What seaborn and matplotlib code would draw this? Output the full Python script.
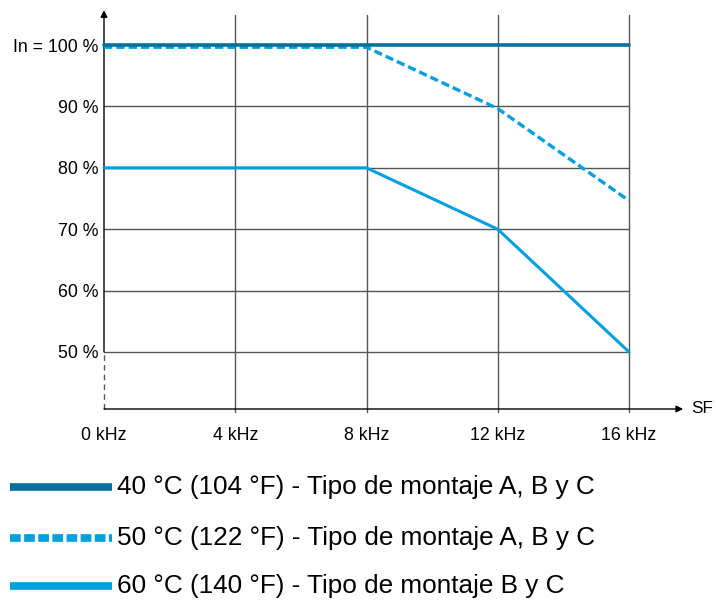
import numpy as np
import pandas as pd
import seaborn as sns
import matplotlib.pyplot as plt
from matplotlib.lines import Line2D
from matplotlib.transforms import offset_copy

freq_khz = [0, 4, 8, 12, 16]
curva_40 = [100, 100, 100, 100, 100]
curva_50 = [100, 100, 100, 90, 75]
curva_60 = [80, 80, 80, 70, 50]
x_ticks = [0, 4, 8, 12, 16]
x_labels = ["0 kHz", "4 kHz", "8 kHz", "12 kHz", "16 kHz"]
y_ticks = [50, 60, 70, 80, 90, 100]
y_labels = ["50 %", "60 %", "70 %", "80 %", "90 %", "In = 100 %"]
leyenda = ["40 °C (104 °F) - Tipo de montaje A, B y C",
           "50 °C (122 °F) - Tipo de montaje A, B y C",
           "60 °C (140 °F) - Tipo de montaje B y C"]

c_oscuro = "#00709c"
c_claro = "#009fdf"
gris = "#555555"

sns.set_style("white")
plt.rcParams["font.family"] = ["Liberation Sans", "DejaVu Sans"]
plt.rcParams["text.color"] = "black"
plt.rcParams["xtick.color"] = "black"
plt.rcParams["ytick.color"] = "black"

fig = plt.figure(figsize=(7.16, 6.03), dpi=100)
ax = fig.add_axes([104 / 716, 1 - 409 / 603, 525 / 716, 397 / 603])
ymin, ymax = 40.7, 105.4
ax.set_xlim(0, 16)
ax.set_ylim(ymin, ymax)
for s in ax.spines.values():
    s.set_visible(False)

# rejilla
for y in y_ticks[:-1]:
    ax.plot([0, 16], [y, y], color=gris, lw=1, zorder=1)
for x in x_ticks[1:]:
    ax.plot([x, x], [ymin - 0.5, 104.9], color=gris, lw=1, zorder=1, clip_on=False)

# ejes con flechas
ax.plot([0, 0], [ymin, 50], color=gris, lw=1, ls=(0, (4, 3)), clip_on=False)
ax.annotate("", xy=(0, ymax + 0.3), xytext=(0, 50),
            arrowprops=dict(arrowstyle="-|>", color="black", lw=1, mutation_scale=10,
                            shrinkA=0, shrinkB=0), annotation_clip=False)
ax.annotate("", xy=(17.65, ymin), xytext=(0, ymin),
            arrowprops=dict(arrowstyle="-|>", color="black", lw=1, mutation_scale=10,
                            shrinkA=0, shrinkB=0), annotation_clip=False)
ax.text(17.9, ymin + 0.1, "SF", fontsize=12.3, va="center", ha="left")

df = pd.DataFrame({"f": freq_khz, "c40": curva_40, "c50": curva_50, "c60": curva_60})
tr50 = offset_copy(ax.transData, fig=fig, x=0, y=-1.5, units="points")
sns.lineplot(data=df, x="f", y="c50", ax=ax, color=c_claro, lw=2.4,
             linestyle=(0, (2.5, 1.2)), zorder=3, transform=tr50)
sns.lineplot(data=df, x="f", y="c40", ax=ax, color=c_oscuro, lw=2.6, zorder=4)
sns.lineplot(data=df, x="f", y="c60", ax=ax, color=c_claro, lw=2.2, zorder=3)
for ln in ax.lines:
    ln.set_clip_on(False)

ax.set_xticks(x_ticks)
ax.set_xticklabels(x_labels, fontsize=12.8)
ax.set_yticks(y_ticks)
ax.set_yticklabels(y_labels, fontsize=12.8)
ax.tick_params(axis="x", length=0, pad=13)
ax.tick_params(axis="y", length=0, pad=4)
ax.set_xlabel("")
ax.set_ylabel("")

# leyenda manual debajo del grafico
estilos = [dict(color=c_oscuro, lw=5.5, ls="-"),
           dict(color=c_claro, lw=5.5, ls=(0, (1.4, 0.45))),
           dict(color=c_claro, lw=5.5, ls="-")]
ys = [487, 538, 586]
for txt, est, yp in zip(leyenda, estilos, ys):
    yf = 1 - yp / 603
    fig.add_artist(Line2D([10 / 716, 112 / 716], [yf, yf], solid_capstyle="butt",
                          dash_capstyle="butt", **est))
    fig.text(117 / 716, yf, txt, fontsize=18.8, va="center", ha="left")

fig.savefig("out.png", dpi=100)
